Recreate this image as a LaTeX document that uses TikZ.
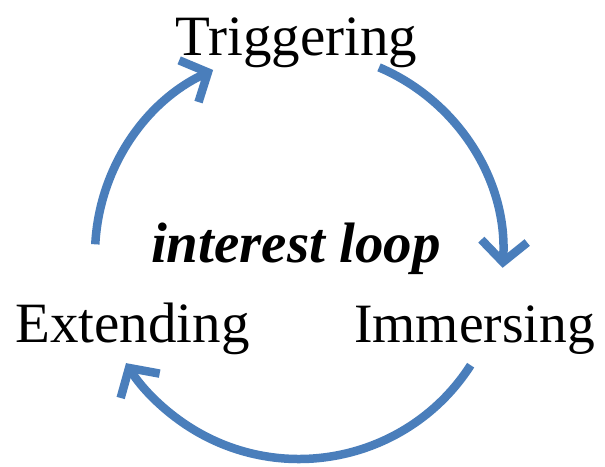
\documentclass[tikz,border=0pt]{standalone}
\usepackage{fontspec}
\setmainfont{Liberation Serif}
\usetikzlibrary{arrows.meta}
\definecolor{loopblue}{RGB}{74,126,187}
\tikzset{
  label text/.style={inner sep=0pt, anchor=base, font=\fontsize{57}{60}\selectfont},
  loop arrow/.style={draw=loopblue, line width=8.5pt, -{Straight Barb[length=21pt, width=46pt]}},
}
\begin{document}
\begin{tikzpicture}[x=1pt, y=1pt]
\useasboundingbox (0,0) rectangle (605,-466);
\fill[white] (0,0) rectangle (605,-466);
\node[label text] (trig) at (296.5,-55) {Triggering};
\node[label text] (ext) at (132.5,-342) {Extending};
\node[label text, font=\fontsize{55.5}{60}\selectfont] (imm) at (474.5,-342) {Immersing};
\node[label text, font=\fontsize{57}{60}\selectfont\bfseries\itshape] (loop) at (296,-262) {interest loop};
\coordinate (c) at (299,-255);
\path (c) ++(66.9:204pt) coordinate (a1);
\path (c) ++(-32.7:204pt) coordinate (a2);
\path (c) ++(177:204pt) coordinate (a3);
\draw[loop arrow] (a1) arc[start angle=66.9, end angle=-3.6, radius=204pt];
\draw[loop arrow] (a2) arc[start angle=-32.7, end angle=-148, radius=204pt];
\draw[loop arrow] (a3) arc[start angle=177, end angle=114.9, radius=204pt];
\end{tikzpicture}
\end{document}
